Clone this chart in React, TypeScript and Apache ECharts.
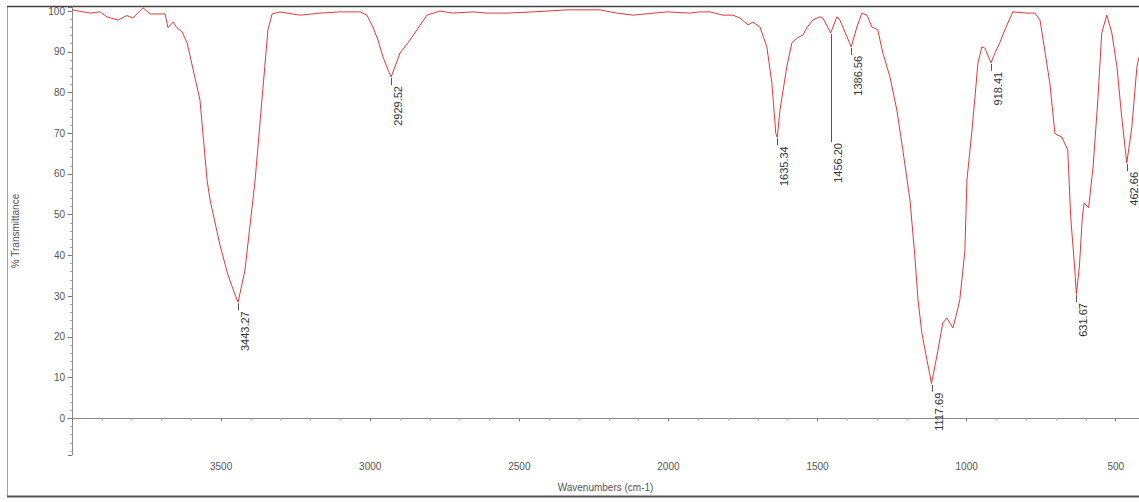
import React, { useEffect, useRef } from "react";
import * as echarts from "echarts";

const wavenumbers = [
  4000, 3940, 3906, 3883, 3846, 3816, 3796, 3762, 3738, 3688,
  3678, 3661, 3648, 3631, 3614, 3571, 3547, 3537, 3504, 3477,
  3453, 3443, 3420, 3386, 3363, 3343, 3329, 3303, 3236, 3168,
  3101, 3034, 3011, 2991, 2974, 2957, 2940, 2930, 2900, 2873,
  2843, 2810, 2766, 2723, 2655, 2609, 2541, 2454, 2340, 2230,
  2173, 2119, 2005, 1928, 1895, 1861, 1817, 1784, 1760, 1733,
  1717, 1693, 1670, 1653, 1640, 1635, 1626, 1603, 1586, 1569,
  1549, 1536, 1516, 1492, 1482, 1456, 1435, 1425, 1387, 1368,
  1351, 1334, 1318, 1298, 1281, 1257, 1234, 1214, 1190, 1174,
  1163, 1150, 1133, 1123, 1118, 1107, 1096, 1080, 1066, 1056,
  1046, 1033, 1023, 1006, 999, 982, 972, 962, 949, 939,
  918, 905, 889, 872, 845, 798, 771, 754, 738, 721,
  704, 697, 681, 661, 651, 638, 632, 622, 612, 606,
  591, 576, 560, 547, 530, 513, 496, 480, 463, 446,
  429, 422,
];

const transmittance = [
  100.3, 99.5, 99.8, 98.6, 97.8, 98.9, 98.3, 100.8, 99.3, 99.3,
  95.9, 97.3, 95.9, 94.9, 92.2, 78.2, 58.5, 53.6, 42.6, 35.2,
  30.3, 28.5, 36.4, 58.5, 78.2, 95.4, 99.3, 99.8, 99.0, 99.5,
  99.8, 99.8, 99.0, 96.1, 92.9, 88.7, 85.5, 83.8, 89.7, 92.2,
  95.4, 99.0, 100.0, 99.5, 99.8, 99.5, 99.5, 99.8, 100.3, 100.3,
  99.5, 99.0, 99.8, 99.5, 99.8, 99.8, 99.0, 99.0, 98.3, 96.6,
  97.3, 96.1, 91.2, 82.3, 70.0, 69.0, 75.7, 86.3, 92.2, 93.4,
  94.1, 95.9, 97.8, 98.6, 98.3, 94.6, 98.6, 97.8, 91.2, 96.1,
  99.5, 99.0, 96.1, 95.4, 89.7, 83.8, 75.7, 65.9, 53.6, 40.1,
  29.1, 20.9, 14.3, 10.6, 8.5, 12.6, 16.8, 23.4, 24.6, 23.4,
  22.2, 25.9, 29.1, 41.0, 58.5, 70.8, 78.9, 87.3, 91.2, 90.9,
  87.3, 89.7, 92.2, 95.4, 99.8, 99.5, 99.5, 97.8, 90.4, 82.3,
  70.0, 69.6, 69.1, 65.9, 49.4, 37.2, 30.5, 37.2, 49.4, 52.9,
  51.7, 61.7, 78.2, 94.6, 99.0, 94.6, 86.3, 74.0, 62.7, 71.5,
  86.3, 88.7,
];

const peakWavenumbers = [3443.27, 2929.52, 1635.34, 1456.2, 1386.56, 1117.69, 918.41, 631.67, 462.66];
const peakTransmittance = [28.5, 83.8, 69.0, 94.6, 91.2, 8.5, 87.3, 30.5, 62.7];
const peakLabels = ["3443.27", "2929.52", "1635.34", "1456.20", "1386.56", "1117.69", "918.41", "631.67", "462.66"];
// label start level (% T) where a label is pushed down; null = directly below the peak
const peakLabelLevels: (number | null)[] = [null, null, null, 67.6, null, null, null, null, null];

const FONT = '"Liberation Sans", Arial, sans-serif';

export default function App() {
  const ref = useRef<HTMLDivElement>(null);
  useEffect(() => {
    const chart = echarts.init(ref.current!, null, { renderer: "svg" });
    const spectrum = wavenumbers.map((w, i) => [w, transmittance[i]]);
    const peaks = peakWavenumbers.map((w, i) => [w, peakTransmittance[i]]);
    chart.setOption({
      animation: false,
      backgroundColor: "#ffffff",
      grid: { left: 72, right: 0, top: 7, bottom: 47 },
      xAxis: {
        type: "value",
        inverse: true,
        min: 422,
        max: 4000,
        splitNumber: 7,
        axisLine: { show: true, lineStyle: { color: "#8a8a8a", width: 1 } },
        axisTick: { show: true, length: 3, lineStyle: { color: "#777" } },
        minorTick: { show: true, splitNumber: 5, length: 2, lineStyle: { color: "#aaa" } },
        axisLabel: {
          color: "#555",
          fontSize: 10,
          fontFamily: FONT,
          margin: 6,
          showMinLabel: false,
          showMaxLabel: false,
          formatter: (v: number) => String(v),
        },
        splitLine: { show: false },
        name: "Wavenumbers (cm-1)",
        nameLocation: "middle",
        nameGap: 27,
        nameTextStyle: { color: "#555", fontSize: 10, fontFamily: FONT },
      },
      yAxis: {
        type: "value",
        min: -9,
        max: 101,
        splitNumber: 11,
        axisLine: { show: true, lineStyle: { color: "#8a8a8a", width: 1 } },
        axisTick: { show: true, length: 4, lineStyle: { color: "#777" } },
        minorTick: { show: true, splitNumber: 5, length: 2, lineStyle: { color: "#aaa" } },
        axisLabel: {
          color: "#555",
          fontSize: 10,
          fontFamily: FONT,
          margin: 7,
          showMinLabel: false,
          showMaxLabel: false,
          formatter: (v: number) => String(v),
        },
        splitLine: { show: false },
        name: "% Transmittance",
        nameLocation: "middle",
        nameRotate: 90,
        nameGap: 52,
        nameTextStyle: { color: "#555", fontSize: 10, fontFamily: FONT },
      },
      graphic: [
        { type: "line", silent: true, shape: { x1: 7.5, y1: 6, x2: 7.5, y2: 497 }, style: { stroke: "#a0a0a0", lineWidth: 1 } },
        { type: "line", silent: true, shape: { x1: 7, y1: 496.5, x2: 1139, y2: 496.5 }, style: { stroke: "#555", lineWidth: 2 } },
        { type: "line", silent: true, shape: { x1: 7, y1: 6.5, x2: 1139, y2: 6.5 }, style: { stroke: "#444", lineWidth: 1.5 } },
      ],
      series: [
        {
          type: "line",
          data: spectrum,
          showSymbol: false,
          symbol: "none",
          smooth: false,
          lineStyle: { color: "#de3b3e", width: 1 },
          silent: true,
          z: 2,
        },
        {
          type: "custom",
          data: peaks,
          encode: { x: 0, y: 1 },
          silent: true,
          z: 3,
          renderItem: (params: any, api: any) => {
            const i = params.dataIndex;
            const p = api.coord([api.value(0), api.value(1)]);
            const lvl = peakLabelLevels[i];
            const textTop = lvl != null ? api.coord([api.value(0), lvl])[1] : p[1] + 9;
            const x = Math.round(p[0]) + 0.5;
            return {
              type: "group",
              children: [
                {
                  type: "line",
                  shape: { x1: x, y1: p[1] + 1, x2: x, y2: textTop - 1 },
                  style: { stroke: "#555", lineWidth: 1 },
                },
                {
                  type: "text",
                  x: x + 0.5,
                  y: textTop,
                  rotation: Math.PI / 2,
                  style: {
                    text: peakLabels[i],
                    fill: "#333",
                    font: `11px ${FONT}`,
                    align: "right",
                    verticalAlign: "top",
                  },
                },
              ],
            };
          },
        },
      ],
    });
    return () => chart.dispose();
  }, []);
  return (
    <div
      ref={ref}
      style={{ position: "fixed", left: 0, top: 0, width: 1139, height: 502 }}
    />
  );
}
